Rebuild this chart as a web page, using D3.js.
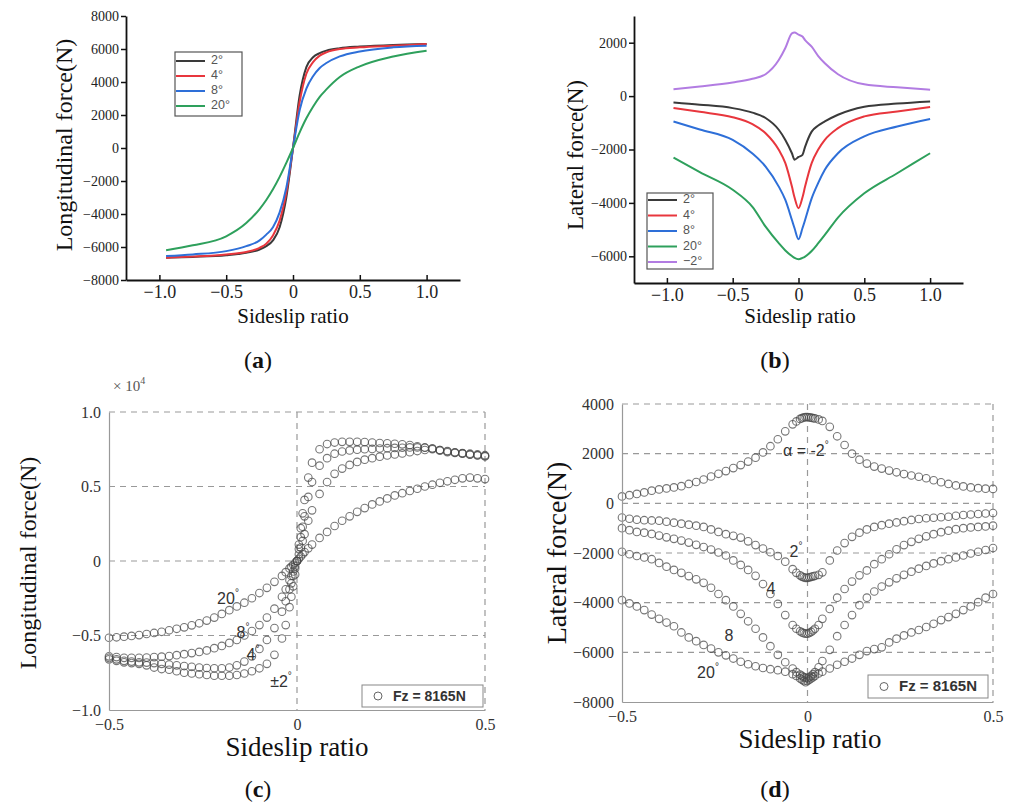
<!DOCTYPE html>
<html>
<head>
<meta charset="utf-8">
<script src="https://cdn.jsdelivr.net/npm/d3@7/dist/d3.min.js"></script>
<style>
  body { margin: 0; background: #fff; }
  svg { display: block; }
</style>
</head>
<body>
<svg width="1013" height="807"></svg>
<script>
// ---------- data ----------
// (a) longitudinal force vs sideslip ratio, simulation
const slipA = [-0.95, -0.75, -0.5, -0.35, -0.25, -0.2, -0.15, -0.1, -0.05, 0, 0.05, 0.1, 0.15, 0.2, 0.25, 0.35, 0.5, 0.75, 1.0];
const fxA2  = [-6650, -6600, -6500, -6350, -6150, -5950, -5600, -4800, -3000, 0, 3200, 4900, 5500, 5750, 5900, 6050, 6150, 6250, 6300];
const fxA4  = [-6650, -6580, -6450, -6300, -6050, -5800, -5300, -4400, -2700, 0, 2800, 4500, 5200, 5600, 5800, 6000, 6100, 6200, 6300];
const fxA8  = [-6550, -6450, -6250, -5950, -5600, -5250, -4800, -3900, -2400, 0, 2300, 3600, 4350, 4850, 5150, 5550, 5850, 6100, 6200];
const fxA20 = [-6200, -5900, -5350, -4550, -3700, -3150, -2500, -1750, -900, 0, 950, 1800, 2500, 3100, 3550, 4300, 4950, 5550, 5900];

// (b) lateral force vs sideslip ratio, simulation
const slipB = [-0.95, -0.75, -0.5, -0.35, -0.25, -0.15, -0.1, -0.05, -0.03, 0, 0.03, 0.05, 0.1, 0.15, 0.2, 0.3, 0.5, 0.75, 1.0];
const fyB2  = [-240, -320, -450, -620, -820, -1260, -1640, -2140, -2380, -2280, -2200, -1900, -1330, -1100, -950, -700, -400, -280, -200];
const fyB4  = [-450, -590, -790, -1050, -1390, -2010, -2510, -3390, -3800, -4200, -3800, -3390, -2510, -2000, -1640, -1200, -760, -575, -410];
const fyB8  = [-950, -1250, -1640, -2150, -2640, -3390, -3890, -4640, -4950, -5360, -4950, -4640, -3830, -3250, -2760, -2140, -1510, -1140, -860];
const fyB20 = [-2300, -2850, -3510, -4150, -4890, -5510, -5780, -5990, -6060, -6110, -6060, -6010, -5800, -5510, -5200, -4550, -3640, -2890, -2140];
const fyBm2 = [260, 360, 510, 650, 820, 1350, 1800, 2350, 2380, 2300, 2230, 2100, 1850, 1500, 1230, 820, 440, 330, 240];

const legendA = ['2°', '4°', '8°', '20°'];
const legendB = ['2°', '4°', '8°', '20°', '−2°'];
const lineColors = ['#3a3a3a', '#e8363d', '#2e6fd8', '#2ea05c', '#b27ce2'];

// (c), (d) test data, shared sideslip samples
const slipT = [-0.5, -0.48, -0.46, -0.44, -0.42, -0.4, -0.38, -0.36, -0.34, -0.32, -0.3, -0.28, -0.26, -0.24, -0.22, -0.2,
  -0.18, -0.16, -0.14, -0.12, -0.1, -0.08, -0.06, -0.04, -0.03, -0.02, -0.015, -0.01, -0.005, 0, 0.005, 0.01, 0.015, 0.02,
  0.03, 0.04, 0.06, 0.08, 0.1, 0.12, 0.14, 0.16, 0.18, 0.2, 0.22, 0.24, 0.26, 0.28, 0.3, 0.32, 0.34, 0.36, 0.38, 0.4,
  0.42, 0.44, 0.46, 0.48, 0.5];

const fxC2 = [-6600, -6700, -6800, -6850, -6900, -7000, -7150, -7250, -7300, -7400, -7500, -7550, -7600, -7650, -7700, -7700,
  -7700, -7650, -7550, -7400, -7200, -6900, -6300, -5200, -4300, -3100, -2400, -1700, -900, 0, 1100, 2200, 3200, 4100,
  5600, 6600, 7500, 7850, 7950, 8000, 8000, 8000, 7980, 7950, 7920, 7900, 7870, 7830, 7780, 7700, 7620, 7550, 7450, 7380,
  7300, 7250, 7200, 7150, 7100];
const fxC4 = [-6500, -6600, -6700, -6750, -6800, -6820, -6850, -6900, -6950, -7000, -7050, -7100, -7150, -7180, -7200, -7200,
  -7150, -7000, -6750, -6400, -5900, -5300, -4500, -3400, -2700, -1900, -1500, -1000, -500, 0, 800, 1600, 2300, 3000,
  4300, 5300, 6400, 6900, 7200, 7350, 7420, 7470, 7500, 7520, 7550, 7570, 7590, 7600, 7620, 7620, 7600, 7550, 7450, 7350,
  7280, 7220, 7150, 7100, 7050];
const fxC8 = [-6400, -6450, -6500, -6500, -6500, -6480, -6450, -6420, -6380, -6320, -6250, -6180, -6100, -6000, -5850, -5700,
  -5500, -5300, -5000, -4700, -4300, -3800, -3200, -2400, -1900, -1300, -1000, -700, -350, 0, 450, 900, 1350, 1800,
  2700, 3400, 4500, 5300, 5850, 6200, 6450, 6650, 6800, 6900, 7000, 7080, 7150, 7220, 7300, 7380, 7450, 7500, 7400, 7300,
  7250, 7200, 7130, 7080, 7020];
const fxC20 = [-5150, -5120, -5080, -5030, -4970, -4900, -4830, -4750, -4650, -4550, -4450, -4320, -4180, -4000, -3800, -3550,
  -3300, -3050, -2800, -2500, -2150, -1800, -1400, -1000, -750, -500, -380, -250, -120, 0, 150, 300, 450, 600,
  850, 1100, 1550, 1950, 2350, 2700, 3000, 3300, 3550, 3800, 4000, 4200, 4400, 4550, 4700, 4850, 5000, 5120, 5250, 5350,
  5450, 5550, 5600, 5550, 5500];

const fyDm2 = [280, 330, 380, 440, 510, 560, 600, 640, 690, 780, 860, 960, 1080, 1190, 1300, 1420,
  1540, 1680, 1840, 2050, 2300, 2580, 2900, 3180, 3300, 3400, 3430, 3460, 3470, 3470, 3460, 3450, 3430, 3420,
  3380, 3320, 3080, 2700, 2350, 2000, 1760, 1600, 1480, 1400, 1320, 1250, 1180, 1120, 1070, 1010, 930, 850, 780, 720,
  680, 640, 610, 590, 580];
const fyD2 = [-570, -620, -660, -680, -690, -700, -740, -780, -820, -860, -900, -950, -1050, -1150, -1240, -1310,
  -1380, -1530, -1680, -1820, -1970, -2120, -2350, -2650, -2800, -2900, -2950, -2980, -3000, -3000, -2980, -2960, -2940, -2920,
  -2880, -2780, -2300, -1900, -1600, -1350, -1180, -1050, -950, -880, -820, -770, -720, -670, -630, -600, -580, -560, -540, -500,
  -470, -450, -430, -410, -390];
const fyD4 = [-1000, -1080, -1150, -1180, -1230, -1300, -1370, -1430, -1500, -1580, -1670, -1760, -1860, -1980, -2100, -2300,
  -2480, -2680, -2920, -3250, -3650, -4050, -4500, -4900, -5050, -5150, -5200, -5230, -5250, -5250, -5220, -5180, -5120, -5050,
  -4900, -4650, -4250, -3800, -3450, -3150, -2900, -2700, -2450, -2250, -2050, -1850, -1680, -1550, -1430, -1330, -1240, -1160, -1100, -1040,
  -1000, -970, -950, -930, -900];
const fyD8 = [-1950, -2050, -2120, -2180, -2250, -2400, -2550, -2680, -2800, -2930, -3060, -3200, -3400, -3650, -3900, -4150,
  -4450, -4750, -5050, -5400, -5750, -6100, -6400, -6650, -6800, -6900, -6950, -7000, -7020, -7050, -7000, -6950, -6880, -6800,
  -6600, -6350, -5900, -5350, -4900, -4500, -4100, -3800, -3550, -3350, -3180, -3020, -2880, -2750, -2630, -2520, -2420, -2330, -2250, -2180,
  -2100, -2020, -1950, -1880, -1800];
const fyD20 = [-3900, -4030, -4150, -4300, -4480, -4650, -4800, -4950, -5200, -5400, -5550, -5700, -5850, -6000, -6120, -6250,
  -6380, -6480, -6560, -6630, -6680, -6720, -6780, -6880, -6950, -7050, -7100, -7150, -7200, -7150, -7100, -7050, -7000, -6950,
  -6850, -6780, -6650, -6500, -6380, -6250, -6100, -5950, -5870, -5800, -5600, -5450, -5320, -5200, -5100, -4980, -4850, -4700, -4580, -4450,
  -4300, -4150, -3980, -3800, -3650];

const legendTest = 'Fz = 8165N';

// ---------- setup ----------
const serif = "'Liberation Serif', 'Times New Roman', serif";
const sans = "'Liberation Sans', Arial, sans-serif";
var svg = d3.select('svg');
svg.append('rect').attr('width', 1013).attr('height', 807).attr('fill', '#fff');

function zip(xs, ys) { return xs.map((x, i) => [x, ys[i]]); }
const fmtRatio = d => d === 0 ? '0' : d3.format('.1f')(d);

function caption(letter, cx, y) {
    let t = svg.append('text')
        .attr('x', cx).attr('y', y)
        .attr('text-anchor', 'middle')
        .attr('font-family', serif).attr('font-size', 24).attr('fill', '#111');
    t.append('tspan').text('(');
    t.append('tspan').attr('font-weight', 'bold').text(letter);
    t.append('tspan').text(')');
}

function yLabel(text, cx, cy, size) {
    svg.append('text')
        .attr('transform', `translate(${cx},${cy}) rotate(-90)`)
        .attr('text-anchor', 'middle').attr('dominant-baseline', 'middle')
        .attr('font-family', serif).attr('font-size', size).attr('fill', '#111')
        .text(text);
}

function xLabel(text, cx, cy, size) {
    svg.append('text')
        .attr('x', cx).attr('y', cy)
        .attr('text-anchor', 'middle').attr('dominant-baseline', 'middle')
        .attr('font-family', serif).attr('font-size', size).attr('fill', '#111')
        .text(text);
}

// ---------- line panels (a), (b) ----------
function linePanel(x, y, yTicks, xs, series, labels, legendBox) {
    let g = svg.append('g');
    let line = d3.line().x(d => x(d[0])).y(d => y(d[1])).curve(d3.curveMonotoneX);

    series.forEach((s, i) => {
        g.append('path')
            .datum(zip(xs, s))
            .attr('d', line)
            .attr('fill', 'none')
            .attr('stroke', lineColors[i])
            .attr('stroke-width', 2);
    });

    let yAxis = g.append('g')
        .attr('transform', `translate(${x.range()[0]},0)`)
        .call(d3.axisLeft(y).tickValues(yTicks).tickSizeInner(5).tickSizeOuter(0).tickPadding(2).tickFormat(d3.format('d')));
    yAxis.selectAll('text').attr('font-family', serif).attr('font-size', 14).attr('fill', '#222');

    let xAxis = g.append('g')
        .attr('transform', `translate(0,${y.range()[0]})`)
        .call(d3.axisBottom(x).tickValues([-1, -0.5, 0, 0.5, 1]).tickSizeInner(-5).tickSizeOuter(0).tickPadding(5).tickFormat(fmtRatio));
    xAxis.selectAll('text').attr('font-family', serif).attr('font-size', 18).attr('fill', '#222');

    g.selectAll('.domain').attr('stroke', '#111').attr('stroke-width', 1.8);
    g.selectAll('.tick line').attr('stroke', '#111').attr('stroke-width', 1.5);

    // legend
    let lg = g.append('g').attr('transform', `translate(${legendBox.x},${legendBox.y})`);
    lg.append('rect')
        .attr('width', legendBox.w).attr('height', legendBox.h)
        .attr('fill', '#fff').attr('stroke', '#555').attr('stroke-width', 1.2);
    labels.forEach((lab, i) => {
        let ry = legendBox.first + i * legendBox.step;
        lg.append('line')
            .attr('x1', 1).attr('x2', 30).attr('y1', ry).attr('y2', ry)
            .attr('stroke', lineColors[i]).attr('stroke-width', 2);
        lg.append('text')
            .attr('x', 36).attr('y', ry).attr('dominant-baseline', 'middle')
            .attr('font-family', sans).attr('font-size', 12.5).attr('fill', '#555')
            .text(lab);
    });
}

let xA = d3.scaleLinear().domain([-1.25, 1.25]).range([126, 460]);
let yA = d3.scaleLinear().domain([-8000, 8000]).range([280, 16]);
linePanel(xA, yA, d3.range(-8000, 8001, 2000), slipA, [fxA2, fxA4, fxA8, fxA20], legendA,
    {x: 175, y: 52, w: 67, h: 64, first: 9, step: 15});
yLabel('Longitudinal force(N)', 66, 145, 24);
xLabel('Sideslip ratio', 293, 318, 21);
caption('a', 258, 368);

let xB = d3.scaleLinear().domain([-1.25, 1.25]).range([634, 963]);
let yB = d3.scaleLinear().domain([-7000, 3000]).range([283, 16]);
linePanel(xB, yB, d3.range(-6000, 2001, 2000), slipB, [fyB2, fyB4, fyB8, fyB20, fyBm2], legendB,
    {x: 647, y: 193, w: 66, h: 76, first: 7, step: 15.5});
yLabel('Lateral force(N)', 578, 155, 23);
xLabel('Sideslip ratio', 800, 318, 21);
caption('b', 775, 368);

// ---------- scatter panels (c), (d) ----------
function scatterPanel(x, y, yTicks, fmt, series, legendBox, tickSize) {
    let g = svg.append('g');
    let [x0, x1] = x.range();
    let [yb, yt] = y.range();

    // dashed grid and top/right frame
    yTicks.filter(v => v !== yTicks[0]).forEach(v => {
        g.append('line').attr('x1', x0).attr('x2', x1).attr('y1', y(v)).attr('y2', y(v))
            .attr('stroke', '#999').attr('stroke-width', 1.2).attr('stroke-dasharray', '6,5');
    });
    [0, 0.5].forEach(v => {
        g.append('line').attr('x1', x(v)).attr('x2', x(v)).attr('y1', yt).attr('y2', yb)
            .attr('stroke', '#999').attr('stroke-width', 1.2).attr('stroke-dasharray', '6,5');
    });

    series.forEach(s => {
        g.append('g').selectAll('circle')
            .data(zip(slipT, s))
            .enter()
            .append('circle')
            .attr('cx', d => x(d[0]))
            .attr('cy', d => y(d[1]))
            .attr('r', 3.8)
            .attr('fill', 'none')
            .attr('stroke', '#4a4a4a')
            .attr('stroke-opacity', 0.75)
            .attr('stroke-width', 1.1);
    });

    let yAxis = g.append('g')
        .attr('transform', `translate(${x0},0)`)
        .call(d3.axisLeft(y).tickValues(yTicks).tickSize(0).tickPadding(8).tickFormat(fmt));
    yAxis.selectAll('text').attr('font-family', serif).attr('font-size', tickSize).attr('fill', '#333');

    let xAxis = g.append('g')
        .attr('transform', `translate(0,${yb})`)
        .call(d3.axisBottom(x).tickValues([-0.5, 0, 0.5]).tickSize(0).tickPadding(9).tickFormat(fmtRatio));
    xAxis.selectAll('text').attr('font-family', serif).attr('font-size', tickSize).attr('fill', '#333');
    g.selectAll('.domain').attr('stroke', '#999').attr('stroke-width', 1.2);

    // legend
    let lg = g.append('g').attr('transform', `translate(${legendBox.x},${legendBox.y})`);
    lg.append('rect').attr('width', legendBox.w).attr('height', legendBox.h)
        .attr('fill', '#fff').attr('stroke', '#888').attr('stroke-width', 1);
    lg.append('circle').attr('cx', 16).attr('cy', legendBox.h / 2).attr('r', 4)
        .attr('fill', 'none').attr('stroke', '#666');
    lg.append('text').attr('x', 31).attr('y', legendBox.h / 2 + 1).attr('dominant-baseline', 'middle')
        .attr('font-family', sans).attr('font-size', legendBox.size).attr('font-weight', 'bold').attr('fill', '#333')
        .text(legendTest);
    return g;
}

function note(g, txt, deg, x, y, anchor) {
    let t = g.append('text').attr('x', x).attr('y', y).attr('text-anchor', anchor || 'middle')
        .attr('font-family', sans).attr('font-size', 16).attr('fill', '#333');
    t.append('tspan').text(txt);
    if (deg) t.append('tspan').attr('font-size', 10).attr('dy', -8).text('°');
}

let xC = d3.scaleLinear().domain([-0.5, 0.5]).range([109, 485]);
let yC = d3.scaleLinear().domain([-10000, 10000]).range([710, 412]);
let gC = scatterPanel(xC, yC, [-10000, -5000, 0, 5000, 10000], d => fmtRatio(d / 1e4),
    [fxC2, fxC4, fxC8, fxC20], {x: 362, y: 685, w: 121, h: 22, size: 14}, 16);
svg.append('text').attr('x', 113).attr('y', 391)
    .attr('font-family', serif).attr('font-size', 15).attr('fill', '#555')
    .text('× 10').append('tspan').attr('font-size', 10).attr('dy', -7).text('4');
note(gC, '20', true, 228, 604);
note(gC, '8', true, 243, 638);
note(gC, '4', true, 253, 660);
note(gC, '±2', true, 281, 687);
yLabel('Longitudinal force(N)', 30, 563, 24);
xLabel('Sideslip ratio', 297, 750, 27);
caption('c', 258, 797);

let xD = d3.scaleLinear().domain([-0.5, 0.5]).range([622, 993]);
let yD = d3.scaleLinear().domain([-8000, 4000]).range([702, 404]);
let gD = scatterPanel(xD, yD, d3.range(-8000, 4001, 2000), d3.format('d'),
    [fyDm2, fyD2, fyD4, fyD8, fyD20], {x: 868, y: 675, w: 120, h: 23, size: 15}, 16);
note(gD, 'α = -2', true, 783, 456, 'start');
note(gD, '2', true, 796, 557);
note(gD, '4', false, 771, 594);
note(gD, '8', false, 729, 641);
note(gD, '20', true, 708, 678);
yLabel('Lateral force(N)', 560, 553, 28);
xLabel('Sideslip ratio', 810, 742, 27);
caption('d', 775, 797);
</script>
</body>
</html>
